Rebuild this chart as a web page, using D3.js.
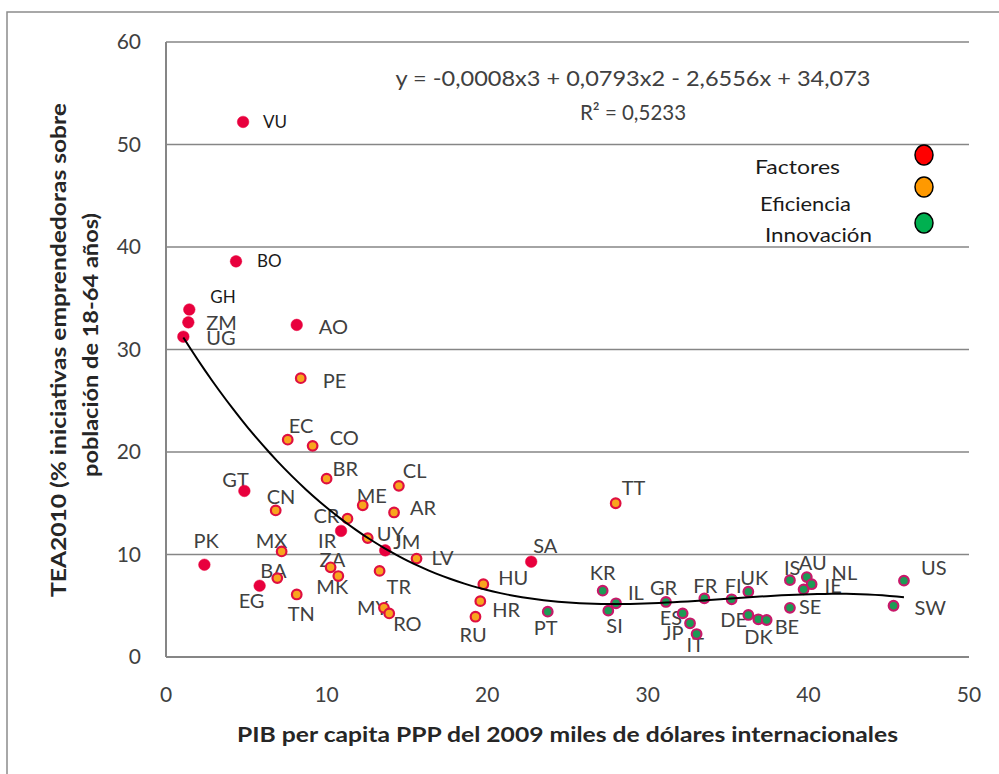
<!DOCTYPE html>
<html>
<head>
<meta charset="utf-8">
<script src="https://cdn.jsdelivr.net/npm/d3@7"></script>
<style>
  body { margin: 0; background: #fff; }
  text { font-family: Lato, "Open Sans", sans-serif; }
</style>
</head>
<body>
<div id="my_dataviz"></div>
<script>

// country codes, GDP per capita (thousand int. $), TEA 2010 and economy stage
var countries = ["VU","BO","GH","ZM","UG","AO","PE","EC","CO","BR","GT","CN","CL","ME","AR","CR","IR","UY","JM","LV",
                 "MX","PK","ZA","BA","MK","EG","TN","TR","MY","RO","TT","SA","HU","HR","RU","PT","KR","IL","SI","GR",
                 "ES","JP","IT","FR","FI","UK","DE","DK","BE","IS","AU","NL","IE","SE","US","SW"];
var gdp = [4.8, 4.36, 1.45, 1.39, 1.08, 8.14, 8.39, 7.58, 9.13, 10.0, 4.88, 6.83, 14.5, 12.25, 14.2, 11.3, 10.9, 12.56, 13.65, 15.6,
           7.2, 2.39, 10.25, 6.93, 10.73, 5.83, 8.14, 13.3, 13.57, 13.9, 28.0, 22.74, 19.76, 19.57, 19.27, 23.77, 27.19, 28.02, 27.54, 31.13,
           32.17, 32.63, 33.04, 33.52, 35.22, 36.26, 36.26, 36.88, 37.4, 38.85, 39.9, 40.2, 39.7, 38.85, 45.95, 45.3];
var tea = [52.2, 38.6, 33.9, 32.65, 31.25, 32.4, 27.2, 21.2, 20.6, 17.4, 16.2, 14.3, 16.7, 14.8, 14.1, 13.5, 12.3, 11.6, 10.4, 9.6,
           10.3, 9.0, 8.75, 7.7, 7.9, 6.95, 6.1, 8.4, 4.8, 4.25, 15.0, 9.3, 7.1, 5.45, 3.93, 4.42, 6.47, 5.24, 4.52, 5.37,
           4.26, 3.29, 2.24, 5.72, 5.63, 6.37, 4.1, 3.68, 3.61, 7.5, 7.8, 7.1, 6.6, 4.8, 7.45, 5.0];
var stage = ["F","F","F","F","F","F","E","E","E","E","F","E","E","E","E","E","F","E","F","E",
             "E","F","E","E","E","F","E","E","E","E","E","F","E","E","E","I","I","I","I","I",
             "I","I","I","I","I","I","I","I","I","I","I","I","I","I","I","I"];

var stageNames = ["Factores", "Eficiencia", "Innovación"];
var stageKeys = ["F", "E", "I"];
var yTicks = [0, 10, 20, 30, 40, 50, 60];
var xTicks = [0, 10, 20, 30, 40, 50];

// where each label sits relative to its point (text left / baseline, px)
var labelOffsets = {
  VU:[20,6], BO:[21,6], GH:[21,-7], ZM:[18,8], UG:[23,8], AO:[22,9], PE:[22,10], EC:[1,-7], CO:[17,-1], BR:[6,-3],
  GT:[-22,-4], CN:[-9,-6], CL:[4,-8], ME:[-6,-2], AR:[16,3], CR:[-34,4], IR:[-23,17], UY:[9,3], JM:[8,-1], LV:[15,6],
  MX:[-26,-3], PK:[-11,-17], ZA:[-11,0], BA:[-17,0], MK:[-22,18], EG:[-21,22], TN:[-9,27], TR:[7,23], MY:[-27,7], RO:[4,18],
  TT:[6,-8], SA:[2,-9], HU:[15,1], HR:[12,16], RU:[-16,25], PT:[-14,23], KR:[-13,-11], IL:[12,-3], SI:[-2,22], GR:[-16,-7],
  ES:[-23,12], JP:[-27,17], IT:[-10,18], FR:[-11,-5], FI:[-7,-6], UK:[-8,-7], DE:[-28,12], DK:[-14,25], BE:[8,14],
  IS:[-6,-5], AU:[-8,-7], NL:[20,-4], IE:[21,4], SE:[9,6], US:[17,-6], SW:[21,9]
};
var smallLabels = ["VU", "BO", "GH"];

var data = countries.map(function(c, i) {
  return {code: c, x: gdp[i], y: tea[i], stage: stage[i]};
});

var W = 999, H = 774;
var margin = {left: 166, right: 30, top: 42, bottom: 117};

var svg = d3.select("#my_dataviz")
  .append("svg")
    .attr("width", W)
    .attr("height", H);

// outer chart frame (only left and top edges are visible)
svg.append("rect")
  .attr("x", 7).attr("y", 12)
  .attr("width", 1200).attr("height", 1200)
  .attr("fill", "none")
  .attr("stroke", "#8c8c8c")
  .attr("stroke-width", 1.5);

var x = d3.scaleLinear().domain([0, 50]).range([margin.left, W - margin.right]);
var y = d3.scaleLinear().domain([0, 60]).range([H - margin.bottom, margin.top]);

// gridlines
svg.append("g")
  .selectAll("line")
  .data(yTicks)
  .enter().append("line")
    .attr("x1", x(0)).attr("x2", x(50))
    .attr("y1", function(d) { return y(d); })
    .attr("y2", function(d) { return y(d); })
    .attr("stroke", "#868686")
    .attr("stroke-width", function(d) { return d === 0 ? 2 : 1.5; });

// left axis line
svg.append("line")
  .attr("x1", x(0)).attr("x2", x(0))
  .attr("y1", y(60)).attr("y2", y(0))
  .attr("stroke", "#868686")
  .attr("stroke-width", 2);

// tick labels
svg.append("g")
  .selectAll("text")
  .data(yTicks)
  .enter().append("text")
    .attr("x", x(0) - 25)
    .attr("y", function(d) { return y(d) + 7; })
    .attr("text-anchor", "end")
    .style("font-size", "21px")
    .style("fill", "#404040")
    .text(function(d) { return d; });

svg.append("g")
  .selectAll("text")
  .data(xTicks)
  .enter().append("text")
    .attr("x", function(d) { return x(d); })
    .attr("y", y(0) + 45)
    .attr("text-anchor", "middle")
    .style("font-size", "21px")
    .style("fill", "#404040")
    .text(function(d) { return d; });

// axis titles
svg.append("text")
  .attr("x", (x(0) + x(50)) / 2)
  .attr("y", 742)
  .attr("text-anchor", "middle")
  .attr("textLength", 661)
  .attr("lengthAdjust", "spacingAndGlyphs")
  .style("font-size", "20px")
  .style("font-weight", "bold")
  .style("fill", "#262626")
  .text("PIB per capita PPP del 2009 miles de dólares internacionales");

var yTitle = svg.append("g")
  .attr("transform", "rotate(-90)")
  .style("font-size", "20px")
  .style("font-weight", "bold")
  .style("fill", "#262626");
yTitle.append("text")
  .attr("x", -350).attr("y", 66)
  .attr("text-anchor", "middle")
  .attr("textLength", 494)
  .attr("lengthAdjust", "spacingAndGlyphs")
  .text("TEA2010 (% iniciativas emprendedoras sobre");
yTitle.append("text")
  .attr("x", -345).attr("y", 98)
  .attr("text-anchor", "middle")
  .attr("textLength", 264)
  .attr("lengthAdjust", "spacingAndGlyphs")
  .text("población de 18-64 años)");

// point labels
svg.append("g")
  .selectAll("text")
  .data(data)
  .enter().append("text")
    .attr("x", function(d) { return x(d.x) + labelOffsets[d.code][0]; })
    .attr("y", function(d) { return y(d.y) + labelOffsets[d.code][1]; })
    .style("font-size", function(d) { return smallLabels.indexOf(d.code) >= 0 ? "17px" : "20px"; })
    .style("fill", function(d) { return smallLabels.indexOf(d.code) >= 0 ? "#1a1a1a" : "#404040"; })
    .text(function(d) { return d.code; });

// points
var fill = d3.scaleOrdinal().domain(stageKeys).range(["#e8003d", "#f8a51e", "#1d9b55"]);
var stroke = d3.scaleOrdinal().domain(stageKeys).range(["#e8003d", "#df0f40", "#c8186a"]);

svg.append("g")
  .selectAll("circle")
  .data(data)
  .enter().append("circle")
    .attr("cx", function(d) { return x(d.x); })
    .attr("cy", function(d) { return y(d.y); })
    .attr("r", function(d) { return d.stage === "F" ? 5.8 : 4.8; })
    .attr("fill", function(d) { return fill(d.stage); })
    .attr("stroke", function(d) { return stroke(d.stage); })
    .attr("stroke-width", function(d) { return d.stage === "F" ? 0.5 : 2.2; });

// polynomial (3rd order) trendline, least squares on the points
function polyFit(xs, ys, order) {
  var n = order + 1, A = [], i, j, k;
  for (i = 0; i < n; i++) {
    A.push([]);
    for (j = 0; j < n; j++) A[i].push(d3.sum(xs, function(v) { return Math.pow(v, i + j); }));
    A[i].push(d3.sum(xs, function(v, idx) { return Math.pow(v, i) * ys[idx]; }));
  }
  for (i = 0; i < n; i++) {
    var p = i;
    for (k = i + 1; k < n; k++) if (Math.abs(A[k][i]) > Math.abs(A[p][i])) p = k;
    var tmp = A[i]; A[i] = A[p]; A[p] = tmp;
    for (k = i + 1; k < n; k++) {
      var f = A[k][i] / A[i][i];
      for (j = i; j <= n; j++) A[k][j] -= f * A[i][j];
    }
  }
  var c = new Array(n).fill(0);
  for (i = n - 1; i >= 0; i--) {
    var s = A[i][n];
    for (j = i + 1; j < n; j++) s -= A[i][j] * c[j];
    c[i] = s / A[i][i];
  }
  return c;
}
var coef = polyFit(gdp, tea, 3);
var xMin = d3.min(gdp), xMax = d3.max(gdp);
var curve = d3.range(0, 101).map(function(i) {
  var v = xMin + (xMax - xMin) * i / 100;
  return [v, coef[0] + coef[1] * v + coef[2] * v * v + coef[3] * v * v * v];
});

svg.append("path")
  .datum(curve)
  .attr("fill", "none")
  .attr("stroke", "#000")
  .attr("stroke-width", 2)
  .attr("d", d3.line()
    .x(function(d) { return x(d[0]); })
    .y(function(d) { return y(d[1]); }));

// equation text
svg.append("text")
  .attr("x", 633).attr("y", 86)
  .attr("text-anchor", "middle")
  .attr("textLength", 475)
  .attr("lengthAdjust", "spacingAndGlyphs")
  .style("font-size", "21px")
  .style("fill", "#404040")
  .text("y = -0,0008x3 + 0,0793x2 - 2,6556x + 34,073");
svg.append("text")
  .attr("x", 633).attr("y", 120)
  .attr("text-anchor", "middle")
  .attr("textLength", 106)
  .attr("lengthAdjust", "spacingAndGlyphs")
  .style("font-size", "22px")
  .style("fill", "#404040")
  .text("R² = 0,5233");

// legend
var legendColors = ["#ff0000", "#ff9900", "#00b050"];
var legendText = [[755, 174, 85], [760, 211, 91], [765, 242, 107]];
var legendDots = [155, 187, 223];

var legend = svg.append("g")
  .selectAll("g")
  .data(stageNames)
  .enter().append("g");

legend.append("ellipse")
  .attr("cx", 924)
  .attr("cy", function(d, i) { return legendDots[i]; })
  .attr("rx", 9).attr("ry", 10)
  .attr("fill", function(d, i) { return legendColors[i]; })
  .attr("stroke", "#000")
  .attr("stroke-width", 1.5);

legend.append("text")
  .attr("x", function(d, i) { return legendText[i][0]; })
  .attr("y", function(d, i) { return legendText[i][1]; })
  .attr("textLength", function(d, i) { return legendText[i][2]; })
  .attr("lengthAdjust", "spacingAndGlyphs")
  .style("font-size", "20px")
  .style("fill", "#1a1a1a")
  .text(function(d) { return d; });

</script>
</body>
</html>
